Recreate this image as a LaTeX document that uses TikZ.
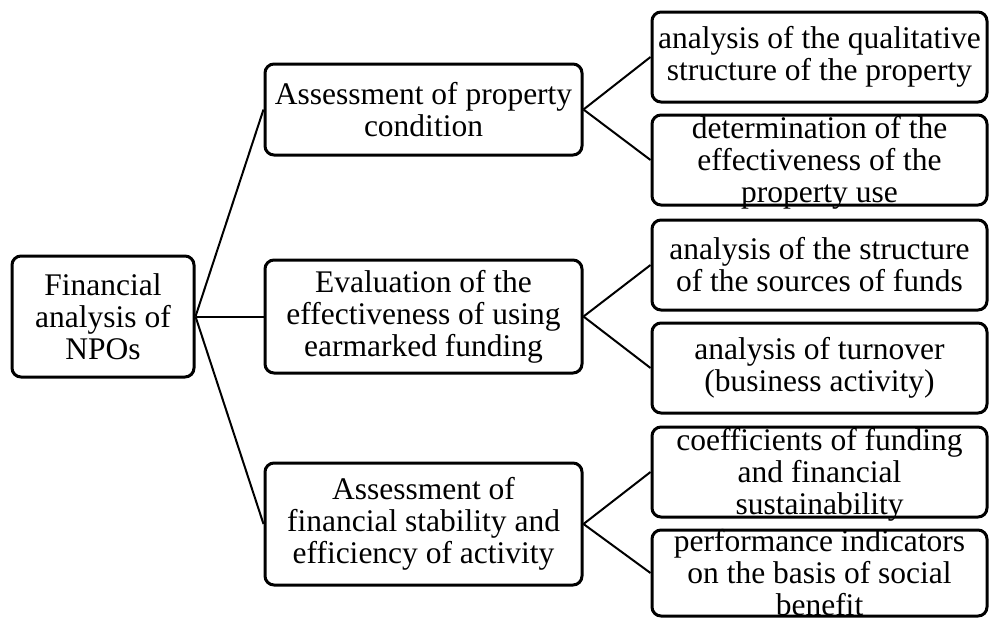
\documentclass[tikz,border=0pt]{standalone}
\usepackage{fontspec}
\setmainfont{Liberation Serif}
\begin{document}
\begin{tikzpicture}[x=1pt,y=-1pt,
  box/.style={draw=black,line width=3pt,rounded corners=9pt,inner sep=0pt},
  txt/.style={align=center,inner sep=0pt,font=\fontsize{31.5}{32}\selectfont},
  link/.style={draw=black,line width=2pt}]
\useasboundingbox (0,0) rectangle (990,619);
% boxes
\node[box,minimum width=182pt,minimum height=121pt] (root) at (103,316.5) {};
\node[box,minimum width=317pt,minimum height=91pt] (m1) at (423.5,109.5) {};
\node[box,minimum width=317pt,minimum height=113pt] (m2) at (423.5,316.5) {};
\node[box,minimum width=317pt,minimum height=122pt] (m3) at (423.5,524) {};
\node[box,minimum width=335pt,minimum height=90pt] (r1) at (819.5,57) {};
\node[box,minimum width=335pt,minimum height=90pt] (r2) at (819.5,160) {};
\node[box,minimum width=335pt,minimum height=90pt] (r3) at (819.5,265) {};
\node[box,minimum width=335pt,minimum height=90pt] (r4) at (819.5,368) {};
\node[box,minimum width=335pt,minimum height=90pt] (r5) at (819.5,472) {};
\node[box,minimum width=335pt,minimum height=86pt] (r6) at (819.5,573) {};
% connectors
\draw[link] (root.east) -- (m1.west);
\draw[link] (root.east) -- (m2.west);
\draw[link] (root.east) -- (m3.west);
\draw[link] (m1.east) -- (r1.west);
\draw[link] (m1.east) -- (r2.west);
\draw[link] (m2.east) -- (r3.west);
\draw[link] (m2.east) -- (r4.west);
\draw[link] (m3.east) -- (r5.west);
\draw[link] (m3.east) -- (r6.west);
% texts
\node[txt] (troot) at (root.center) {Financial\\analysis of\\NPOs};
\node[txt] (tm1) at (m1.center) {Assessment of property\\condition};
\node[txt] (tm2) at (m2.center) {Evaluation of the\\effectiveness of using\\earmarked funding};
\node[txt] (tm3) at (m3.center) {Assessment of\\financial stability and\\efficiency of activity};
\node[txt] (tr1) at (r1.center) {analysis of the qualitative\\structure of the property};
\node[txt,yshift=-3pt] (tr2) at (r2.center) {determination of the\\effectiveness of the\\property use};
\node[txt] (tr3) at (r3.center) {analysis of the structure\\of the sources of funds};
\node[txt] (tr4) at (r4.center) {analysis of turnover\\(business activity)};
\node[txt,yshift=-3pt] (tr5) at (r5.center) {coefficients of funding\\and financial\\sustainability};
\node[txt] (tr6) at (r6.center) {performance indicators\\on the basis of social\\benefit};
\end{tikzpicture}
\end{document}
